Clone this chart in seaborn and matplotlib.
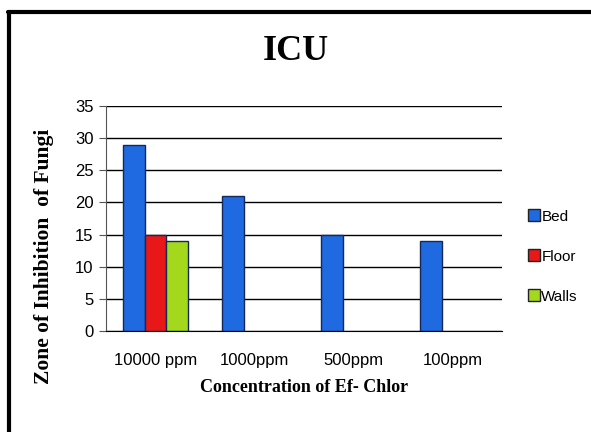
import matplotlib
matplotlib.use("Agg")
import matplotlib.pyplot as plt
from matplotlib.lines import Line2D
import pandas as pd
import seaborn as sb

concentrations = ["10000 ppm", "1000ppm", "500ppm", "100ppm"]
surfaces = ["Bed", "Floor", "Walls"]
bed = [29, 21, 15, 14]
floor = [15, None, None, None]
walls = [14, None, None, None]
colors = ["#1f6ae0", "#e81818", "#a4d81c"]

sb.set_style("white")
plt.rcParams["font.family"] = ["Liberation Sans Narrow", "Liberation Sans", "DejaVu Sans"]
plt.rcParams["text.color"] = "black"
plt.rcParams["xtick.color"] = "black"
plt.rcParams["ytick.color"] = "black"
plt.rcParams["axes.labelcolor"] = "black"

rows = []
for surface, values in zip(surfaces, [bed, floor, walls]):
    for conc, v in zip(concentrations, values):
        rows.append({"conc": conc, "surface": surface, "value": v})
df = pd.DataFrame(rows)

fig = plt.figure(figsize=(5.91, 4.32), dpi=100)
ax = fig.add_axes([106 / 591, 1 - 331 / 432, 396 / 591, 225 / 432])

sb.barplot(
    data=df, x="conc", y="value", hue="surface", order=concentrations,
    hue_order=surfaces, palette=colors, saturation=1, width=0.66,
    edgecolor="#14285a", linewidth=1.0, ax=ax, legend=True,
)

ax.set_ylim(0, 35)
ax.set_yticks(range(0, 36, 5))
ax.yaxis.grid(True, color="black", linewidth=1.0)
ax.set_axisbelow(True)
for s in ["top", "right"]:
    ax.spines[s].set_visible(False)
ax.spines["left"].set_color("#555555")
ax.spines["bottom"].set_color("black")
ax.tick_params(axis="y", left=True, length=5, color="#555555", labelsize=12, pad=4)
ax.tick_params(axis="x", bottom=False, labelsize=12, pad=12)
ax.set_xlabel("Concentration of Ef- Chlor", family="Liberation Serif",
              fontweight="bold", fontsize=13, labelpad=8)
ax.set_ylabel("Zone of Inhibition  of Fungi", family="Liberation Serif",
              fontweight="bold", fontsize=15.5)
ax.yaxis.set_label_coords(-0.132, 0.33)

handles = [Line2D([], [], marker="s", linestyle="", markersize=8,
                  markerfacecolor=c, markeredgecolor="#222222") for c in colors]
ax.legend(handles, surfaces, loc="center left", bbox_to_anchor=(1.03, 0.33),
          frameon=False, fontsize=11, handletextpad=0.1, labelspacing=1.7,
          handlelength=0.8)

fig.text(0.5, 1 - 52 / 432, "ICU", ha="center", va="center",
         family="Liberation Serif", fontweight="bold", fontsize=26)

fig.add_artist(Line2D([9 / 591, 9 / 591], [0, 1 - 12 / 432], color="black",
                      linewidth=3, transform=fig.transFigure))
fig.add_artist(Line2D([8 / 591, 1], [1 - 12 / 432, 1 - 12 / 432], color="black",
                      linewidth=3, transform=fig.transFigure))

fig.savefig("out.png", dpi=100)
